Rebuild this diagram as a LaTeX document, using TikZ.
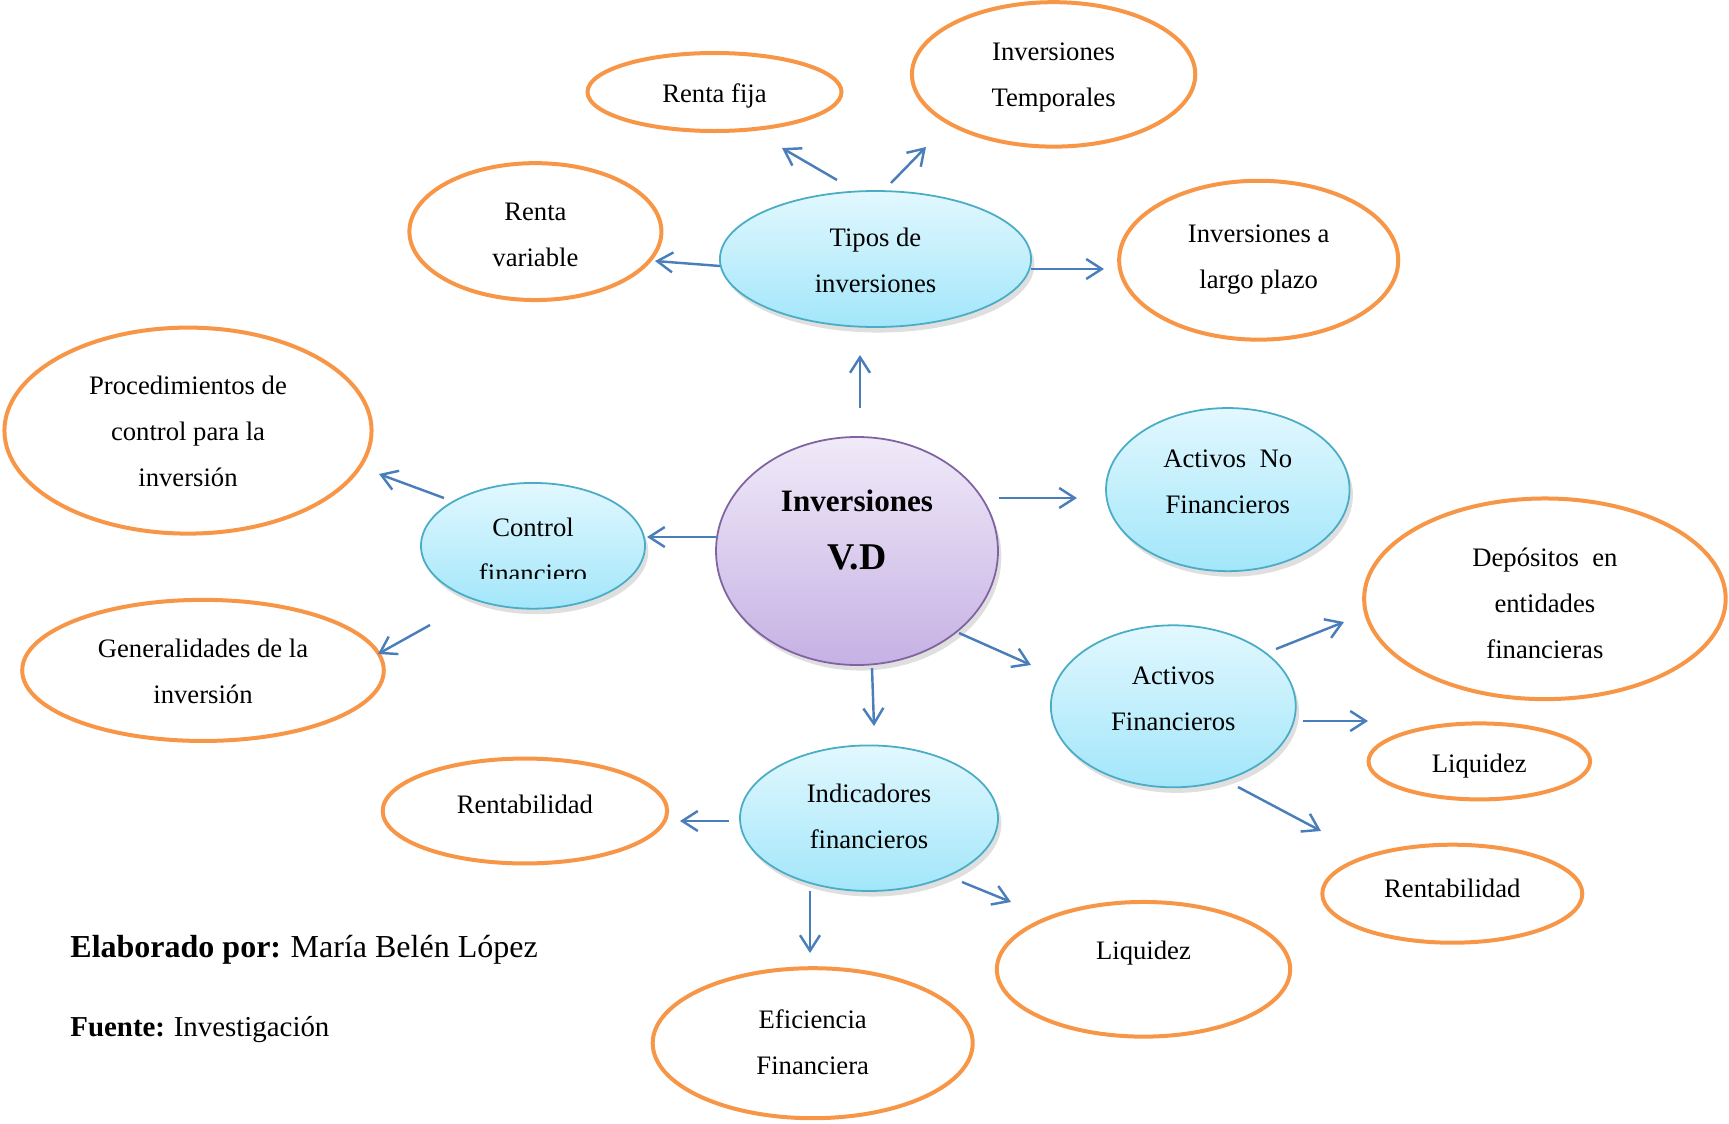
\documentclass[tikz,border=0pt]{standalone}
\usepackage{fontspec}
\setmainfont{Liberation Serif}
\usetikzlibrary{arrows.meta,shapes.geometric,shadows}
\definecolor{ovalorange}{HTML}{F79646}
\definecolor{arrowblue}{HTML}{4A7EBB}
\definecolor{blueline}{HTML}{4BACC6}
\definecolor{bluetop}{HTML}{E2F8FE}
\definecolor{bluebot}{HTML}{A2E6FA}
\definecolor{purpleline}{HTML}{8064A2}
\definecolor{purpletop}{HTML}{F0EAF8}
\definecolor{purplebot}{HTML}{C6B1E4}
\tikzset{
  oval/.style={ellipse, draw=ovalorange, line width=1.8pt, inner sep=0pt},
  blueoval/.style={ellipse, draw=blueline, line width=0.8pt, inner sep=0pt,
    top color=bluetop, bottom color=bluebot,
    drop shadow={opacity=0.25, shadow xshift=1.5pt, shadow yshift=-2.5pt}},
  centre/.style={ellipse, draw=purpleline, line width=0.8pt, inner sep=0pt,
    top color=purpletop, bottom color=purplebot,
    drop shadow={opacity=0.25, shadow xshift=1.5pt, shadow yshift=-2.5pt}},
  txt/.style={align=center, font=\fontsize{12}{20.7}\selectfont},
  arr/.style={draw=arrowblue, line width=1.1pt, -{Straight Barb[length=7pt,width=9pt]}}
}
\begin{document}
\begin{tikzpicture}[x=0.45pt, y=-0.45pt]
\useasboundingbox (0,0) rectangle (1729,1123);
% centre
\node[centre, minimum width=126.9pt, minimum height=102.6pt,
  label={[align=center, font=\fontsize{14}{26}\selectfont\bfseries, yshift=9.4pt]center:{Inversiones\\{\fontsize{17}{26}\selectfont V.D}}}] (inv) at (857,551) {};
% tipos de inversiones
\node[blueoval, minimum width=140pt, minimum height=61.2pt,
  label={[txt, yshift=-0.5pt]center:{Tipos de\\inversiones}}] (tipos) at (875.5,259) {};
\node[oval, minimum width=114.3pt, minimum height=35.1pt,
  label={[txt, yshift=-2pt]center:Renta fija}] (rfija) at (714.5,92) {};
\node[oval, minimum width=127.5pt, minimum height=65pt,
  label={[txt, yshift=-1.2pt]center:{Inversiones\\Temporales}}] (temp) at (1053.6,74.4) {};
\node[oval, minimum width=113.4pt, minimum height=61.6pt,
  label={[txt, yshift=-1.5pt]center:{Renta\\variable}}] (rvar) at (535.4,231.6) {};
\node[oval, minimum width=125.6pt, minimum height=71.5pt,
  label={[txt, yshift=0.5pt]center:{Inversiones a\\largo plazo}}] (largo) at (1258.7,260.2) {};
% control financiero
\node[blueoval, minimum width=100.8pt, minimum height=56.6pt] (control) at (533,545.8) {};
\begin{scope}
\clip (410,440) rectangle (660,578);
\node[txt] (control-t) at (533,550) {Control\\financiero};
\end{scope}
\node[oval, minimum width=165.2pt, minimum height=92.7pt,
  label={[txt, yshift=-0.5pt]center:{Procedimientos de\\control para la\\inversión}}] (proc) at (188,430.6) {};
\node[oval, minimum width=162.7pt, minimum height=63.5pt,
  label={[txt, yshift=-0.5pt]center:{Generalidades de la\\inversión}}] (gener) at (203,670.4) {};
% activos
\node[blueoval, minimum width=109.6pt, minimum height=73.4pt,
  label={[txt, yshift=3.5pt]center:{Activos\ \ No\\Financieros}}] (anf) at (1227.8,489.6) {};
\node[blueoval, minimum width=110.2pt, minimum height=72.9pt,
  label={[txt, yshift=3.3pt]center:{Activos\\Financieros}}] (af) at (1173.3,706.3) {};
\node[oval, minimum width=162.7pt, minimum height=90.3pt,
  label={[txt, yshift=-2pt]center:{Depósitos\ \ en\\entidades\\financieras}}] (depos) at (1544.9,598.8) {};
\node[oval, minimum width=99.7pt, minimum height=34.2pt,
  label={[txt, yshift=-2pt]center:Liquidez}] (liq-af) at (1479.3,761.4) {};
\node[oval, minimum width=117pt, minimum height=44.1pt,
  label={[txt, yshift=2.5pt]center:Rentabilidad}] (rent-af) at (1452.3,893.7) {};
% indicadores financieros
\node[blueoval, minimum width=116.1pt, minimum height=65.5pt,
  label={[txt, yshift=1pt]center:{Indicadores\\financieros}}] (ind) at (869,818.2) {};
\node[oval, minimum width=128pt, minimum height=47.2pt,
  label={[txt, yshift=3.2pt]center:Rentabilidad}] (rent-ind) at (524.9,811) {};
\node[oval, minimum width=132pt, minimum height=60.6pt,
  label={[txt, yshift=7.4pt]center:Liquidez}] (liq-ind) at (1143.5,969.3) {};
\node[oval, minimum width=144pt, minimum height=67.5pt,
  label={[txt, yshift=0.5pt]center:{Eficiencia\\Financiera}}] (efic) at (812.7,1043.2) {};
% arrow ends
\coordinate (inv-tipos) at (860,408);    \coordinate (tipos-in) at (860,355);
\coordinate (tipos-rfija) at (837,180);  \coordinate (rfija-in) at (782,148);
\coordinate (tipos-temp) at (891,183);   \coordinate (temp-in) at (926,147);
\coordinate (tipos-rvar) at (720,266);   \coordinate (rvar-in) at (655,261);
\coordinate (tipos-largo) at (1031,269); \coordinate (largo-in) at (1104,269);
\coordinate (inv-control) at (716,537);  \coordinate (control-in) at (647,537);
\coordinate (control-proc) at (444,498); \coordinate (proc-in) at (379,474);
\coordinate (control-gener) at (430,625);\coordinate (gener-in) at (378,654);
\coordinate (inv-anf) at (999,498);      \coordinate (anf-in) at (1077,498);
\coordinate (inv-af) at (959,633);       \coordinate (af-in) at (1031,665);
\coordinate (af-depos) at (1276,649);    \coordinate (depos-in) at (1344,622);
\coordinate (af-liq) at (1303,721);      \coordinate (liq-af-in) at (1368,721);
\coordinate (af-rent) at (1238,787);     \coordinate (rent-af-in) at (1321,831);
\coordinate (inv-ind) at (872,668);      \coordinate (ind-in) at (874,726);
\coordinate (ind-rent) at (729,821);     \coordinate (rent-ind-in) at (680,821);
\coordinate (ind-liq) at (962,882);      \coordinate (liq-ind-in) at (1011,902);
\coordinate (ind-efic) at (810,891);     \coordinate (efic-in) at (810,953);
\draw[arr] (inv-tipos) -- (tipos-in);
\draw[arr] (tipos-rfija) -- (rfija-in);
\draw[arr] (tipos-temp) -- (temp-in);
\draw[arr] (tipos-rvar) -- (rvar-in);
\draw[arr] (tipos-largo) -- (largo-in);
\draw[arr] (inv-control) -- (control-in);
\draw[arr] (control-proc) -- (proc-in);
\draw[arr] (control-gener) -- (gener-in);
\draw[arr] (inv-anf) -- (anf-in);
\draw[arr] (inv-af) -- (af-in);
\draw[arr] (af-depos) -- (depos-in);
\draw[arr] (af-liq) -- (liq-af-in);
\draw[arr] (af-rent) -- (rent-af-in);
\draw[arr] (inv-ind) -- (ind-in);
\draw[arr] (ind-rent) -- (rent-ind-in);
\draw[arr] (ind-liq) -- (liq-ind-in);
\draw[arr] (ind-efic) -- (efic-in);
% source
\node[anchor=base west, inner sep=0pt, font=\fontsize{14.4}{17}\selectfont] (autor) at (70,957) {\textbf{Elaborado por:}\hspace{0.3em}María Belén López};
\node[anchor=base west, inner sep=0pt, font=\fontsize{13}{16}\selectfont] (fuente) at (70,1036.5) {\textbf{Fuente:}\hspace{0.3em}Investigación};
\end{tikzpicture}
\end{document}
